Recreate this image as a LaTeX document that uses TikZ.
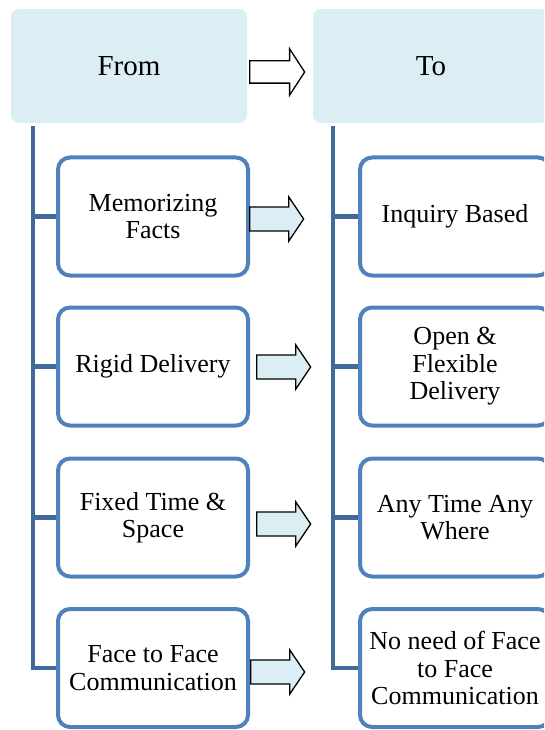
\documentclass[tikz,border=0pt]{standalone}
\usepackage{fontspec}
\setmainfont{Liberation Serif}
\usetikzlibrary{shapes.arrows,backgrounds}
\definecolor{hdrfill}{HTML}{DBEEF4}
\definecolor{boxline}{HTML}{4F81BD}
\definecolor{trunkcol}{HTML}{41699C}
\begin{document}
\begin{tikzpicture}[x=1pt,y=-1pt,
  hdr/.style={fill=hdrfill, rounded corners=8pt, minimum width=236pt, minimum height=114pt, inner sep=0pt, font=\fontsize{29}{31}\selectfont},
  item/.style={draw=boxline, line width=4pt, fill=white, rounded corners=12pt, minimum width=190pt, minimum height=118pt, align=center, inner sep=0pt, font=\fontsize{26}{27.5}\selectfont},
  barrow/.style={single arrow, draw=black, line width=1.3pt, fill=hdrfill, minimum height=54pt, single arrow head extend=10pt, single arrow tip angle=112, inner xsep=0pt, inner ysep=11.3pt, text height=0pt, text depth=0pt, anchor=tail},
  link/.style={draw=trunkcol, line width=4.5pt}]
\useasboundingbox (0,0) rectangle (544,730);
\clip (0,0) rectangle (544,730);
\node[hdr] (from) at (129,66) {From};
\node[hdr] (to) at (431,66) {To};
\node[item] (l1) at (153,216.5) {Memorizing\\Facts};
\node[item] (l2) at (153,366.5) {Rigid Delivery};
\node[item] (l3) at (153,517.5) {Fixed Time \&\\Space};
\node[item] (l4) at (153,668) {Face to Face\\Communication};
\node[item] (r1) at (455,216.5) {Inquiry Based};
\node[item] (r2) at (455,366.5) {Open \&\\Flexible\\Delivery};
\node[item] (r3) at (455,517.5) {Any Time Any\\Where};
\node[item] (r4) at (455,668) {No need of Face\\to Face\\Communication};
\coordinate (ltop) at (33,126);
\coordinate (rtop) at (333,126);
\begin{scope}[on background layer]
  \draw[link] (ltop) |- (l4.west);
  \draw[link] (l1.west) -- (l1.west -| ltop);
  \draw[link] (l2.west) -- (l2.west -| ltop);
  \draw[link] (l3.west) -- (l3.west -| ltop);
  \draw[link] (rtop) |- (r4.west);
  \draw[link] (r1.west) -- (r1.west -| rtop);
  \draw[link] (r2.west) -- (r2.west -| rtop);
  \draw[link] (r3.west) -- (r3.west -| rtop);
\end{scope}
\node[barrow, fill=white, minimum height=55pt, inner ysep=10.5pt, single arrow head extend=12pt, single arrow tip angle=114] (ha) at (249,72) {};
\node[barrow] (a1) at (249,219) {};
\node[barrow] (a2) at (256,367) {};
\node[barrow] (a3) at (256,524) {};
\node[barrow] (a4) at (250,672) {};
\end{tikzpicture}
\end{document}
